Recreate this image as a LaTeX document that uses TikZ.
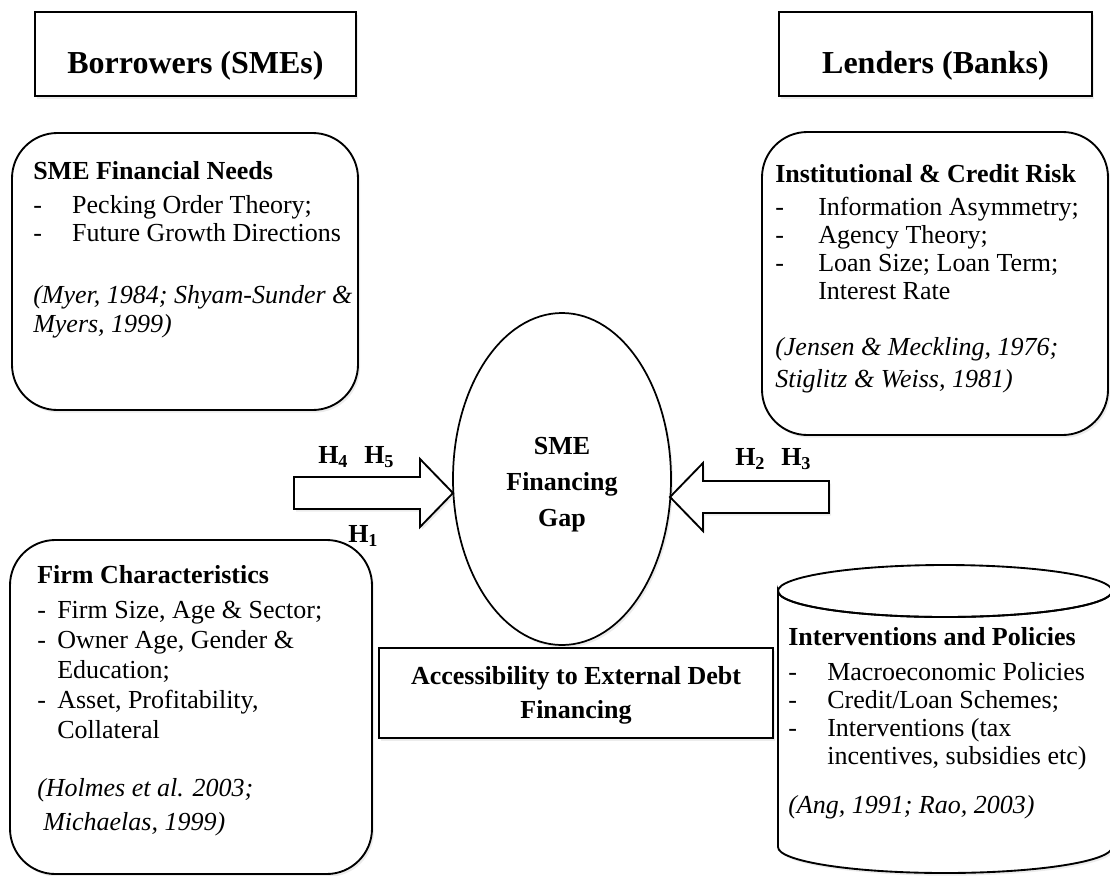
\documentclass[tikz,border=0pt]{standalone}
\usepackage{fontspec}
\setmainfont{Liberation Serif}
\usetikzlibrary{shapes.geometric,shadows,fit}
\tikzset{
  frame/.style={draw=black, line width=1.4pt, fill=white, line join=miter,
    drop shadow={shadow xshift=1.5pt, shadow yshift=-2pt, opacity=0.15}},
  roundbox/.style={frame, rounded corners=34pt, inner sep=0pt},
  plainbox/.style={frame, inner sep=0pt},
  body/.style={inner sep=0pt, anchor=north west, align=left, font=\fontsize{19.5}{21}\selectfont},
  headtext/.style={inner sep=0pt, anchor=base, font=\fontsize{24}{28}\selectfont\bfseries},
  hlabel/.style={inner sep=0pt, anchor=base west, font=\fontsize{19.5}{22}\selectfont\bfseries},
}
\newcommand\dashitem[2]{\makebox[#1][l]{-}#2}
\newcommand\firstline{\rule{0pt}{16pt}}
\begin{document}
\begin{tikzpicture}[x=0.75pt,y=-0.75pt]
\useasboundingbox (0,0) rectangle (1110,875);

% header boxes
\node[plainbox, fit={(35,12) (356,96)}] (borrowbox) {};
\node[headtext] (borrow) at (195.5,73) {Borrowers (SMEs)};
\node[plainbox, fit={(779,12) (1092,96)}] (lendbox) {};
\node[headtext] (lend) at (935.5,73) {Lenders (Banks)};

% rounded boxes
\node[roundbox, fit={(12,133) (358,410)}] (needsbox) {};
\node[body, font=\fontsize{19.5}{21.375}\selectfont] (needs) at (33,157.67) {\firstline\textbf{SME Financial Needs}\\[4.1pt]
\dashitem{29.25pt}{Pecking Order Theory;}\\
\dashitem{29.25pt}{Future Growth Directions}\\[25pt]
\textit{(Myer, 1984; Shyam-Sunder \&}\\
\textit{Myers, 1999)}};

\node[roundbox, fit={(762,132) (1108,435)}] (riskbox) {};
\node[body] (risk) at (775,160.67) {\firstline\textbf{Institutional \& Credit Risk}\\[3.75pt]
\dashitem{32.25pt}{Information Asymmetry;}\\
\dashitem{32.25pt}{Agency Theory;}\\
\dashitem{32.25pt}{Loan Size; Loan Term;}\\
\hspace*{32.25pt}Interest Rate\\[21pt]
\textit{(Jensen \& Meckling, 1976;}\\[3pt]
\textit{Stiglitz \& Weiss, 1981)}};

\node[roundbox, fit={(10,540) (372,874)}] (firmbox) {};
\node[body, font=\fontsize{19.5}{22.5}\selectfont] (firm) at (37,561.67) {\firstline\textbf{Firm Characteristics}\\[3.75pt]
\dashitem{15pt}{Firm Size, Age \& Sector;}\\
\dashitem{15pt}{Owner Age, Gender \&}\\
\hspace*{15pt}Education;\\
\dashitem{15pt}{Asset, Profitability,}\\
\hspace*{15pt}Collateral\\[21pt]
\textit{(Holmes et al. 2003;}\\[3pt]
\hspace*{4.5pt}\textit{Michaelas, 1999)}};

% cylinder
\draw[frame] (778,591) -- (778,847)
  arc[start angle=180, end angle=0, x radius=167, y radius=26]
  -- (1112,591)
  arc[start angle=0, end angle=180, x radius=167, y radius=26] -- cycle;
\draw[line width=1.4pt] (945,591) ellipse [x radius=167, y radius=26];
\node[body] (policy) at (788,623.67) {\firstline\textbf{Interventions and Policies}\\[5.25pt]
\dashitem{29.25pt}{Macroeconomic Policies}\\
\dashitem{29.25pt}{Credit/Loan Schemes;}\\
\dashitem{29.25pt}{Interventions (tax}\\
\hspace*{29.25pt}incentives, subsidies etc)\\[15.75pt]
\textit{(Ang, 1991; Rao, 2003)}};

% central ellipse
\node[draw=black, line width=1.3pt, ellipse, fill=white, inner sep=0pt,
  minimum width=163.5pt, minimum height=249pt,
  drop shadow={shadow xshift=1.5pt, shadow yshift=-2pt, opacity=0.15}] (gap) at (562,479) {};
\node[body, anchor=north, align=center, font=\fontsize{19.5}{27}\selectfont\bfseries] (gaptext) at (562,432.67) {\firstline SME\\Financing\\Gap};

% block arrows
\draw[frame] (294,477) -- (420,477) -- (420,459) -- (453,493) -- (420,527) -- (420,509) -- (294,509) -- cycle;
\draw[frame] (829,481) -- (703,481) -- (703,463) -- (670,497) -- (703,531) -- (703,513) -- (829,513) -- cycle;

% hypothesis labels
\node[hlabel] (h4) at (318,463) {H\textsubscript{4}};
\node[hlabel] (h5) at (364,463) {H\textsubscript{5}};
\node[hlabel] (h1) at (348,542) {H\textsubscript{1}};
\node[hlabel] (h2) at (735,465) {H\textsubscript{2}};
\node[hlabel] (h3) at (781,465) {H\textsubscript{3}};

% access box
\node[plainbox, fit={(379,648) (773,738)}] (accessbox) {};
\node[body, anchor=north, align=center, font=\fontsize{19.5}{25.5}\selectfont\bfseries] (access) at (576,662.67) {\firstline Accessibility to External Debt\\Financing};
\end{tikzpicture}
\end{document}
